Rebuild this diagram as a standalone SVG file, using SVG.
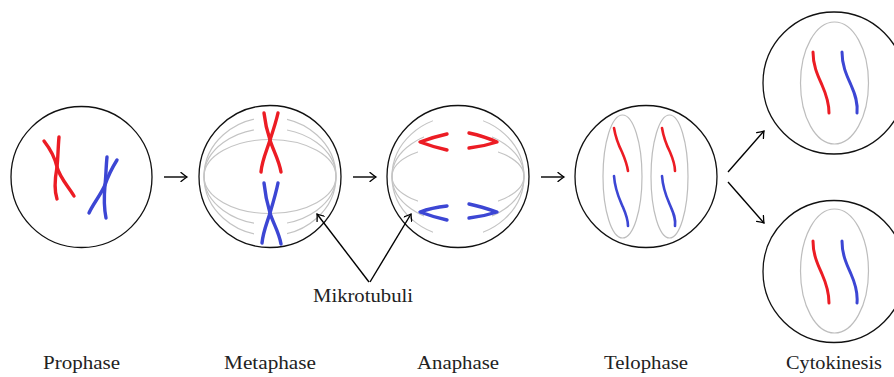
<svg xmlns="http://www.w3.org/2000/svg" width="894" height="377" viewBox="0 0 894 377">
  <defs>
    <style>
      .cell { fill: none; stroke: #111; stroke-width: 1.3; }
      .mt { fill: none; stroke: #c4c4c4; stroke-width: 1.2; }
      .env { fill: none; stroke: #bdbdbd; stroke-width: 1.2; }
      .red { fill: none; stroke: #ec1c24; stroke-width: 3.4; stroke-linecap: round; stroke-linejoin: round; }
      .blue { fill: none; stroke: #3c46d4; stroke-width: 3.4; stroke-linecap: round; stroke-linejoin: round; }
      .conn { fill: none; stroke: #000; stroke-width: 1.4; }
      .label { font-family: "Liberation Serif", "DejaVu Serif", serif; font-size: 19px; fill: #222; text-anchor: middle; }
    </style>
    <marker id="tip" viewBox="-7 -5 9 10" markerWidth="9" markerHeight="10" refX="0" refY="0" orient="auto" markerUnits="userSpaceOnUse">
      <path d="M-6,-4.5 Q-2,-1.2 0,0 Q-2,1.2 -6,4.5" fill="none" stroke="#000" stroke-width="1.3" stroke-linecap="round"/>
    </marker>
    <!-- spindle fibres are hidden across the equatorial band -->
    <clipPath id="metaSides">
      <rect x="190" y="90" width="64" height="180"/>
      <rect x="287" y="90" width="64" height="180"/>
    </clipPath>
    <clipPath id="anaOuter">
      <rect x="380" y="90" width="53" height="180"/>
      <rect x="483" y="90" width="53" height="180"/>
    </clipPath>
    <clipPath id="anaMid">
      <rect x="380" y="90" width="44" height="180"/>
      <rect x="492" y="90" width="44" height="180"/>
    </clipPath>
    <clipPath id="anaInner">
      <rect x="380" y="90" width="38" height="180"/>
      <rect x="498" y="90" width="38" height="180"/>
    </clipPath>
  </defs>

  <!-- Prophase -->
  <g id="prophase">
    <circle class="cell" cx="81.5" cy="177" r="70.5"/>
    <path class="red" d="M44,141 C51,150 55,158 57,167 C60,178 68,186 74,196"/>
    <path class="red" d="M59,137 C58,148 58,158 57,167 C55,178 54,190 57,199"/>
    <path class="blue" d="M117,160 C112,168 108,176 105,185 C100,196 93,204 89,213"/>
    <path class="blue" d="M107,157 C106,167 106,176 105,185 C104,196 104,208 106,218"/>
  </g>

  <!-- Metaphase -->
  <g id="metaphase">
    <circle class="cell" cx="270" cy="176.5" r="71"/>
    <ellipse class="mt" cx="270" cy="176.5" rx="66" ry="37"/>
    <g clip-path="url(#metaSides)">
      <ellipse class="mt" cx="270" cy="176.5" rx="66" ry="48"/>
      <ellipse class="mt" cx="270" cy="176.5" rx="66" ry="59"/>
    </g>
    <path class="red" d="M264,113 C265,122 267,131 270,140 C273,150 279,160 281,172"/>
    <path class="red" d="M278,113 C276,122 273,131 270,140 C267,150 262,160 261,172"/>
    <path class="blue" d="M264,183 C265,193 267,203 270,213 C273,223 279,232 281,244"/>
    <path class="blue" d="M278,183 C276,193 273,203 270,213 C267,223 263,232 262,243"/>
  </g>

  <!-- Anaphase -->
  <g id="anaphase">
    <circle class="cell" cx="458" cy="176.5" r="71"/>
    <ellipse class="mt" cx="458" cy="176.5" rx="66" ry="60" clip-path="url(#anaOuter)"/>
    <ellipse class="mt" cx="458" cy="176.5" rx="66" ry="46" clip-path="url(#anaMid)"/>
    <ellipse class="mt" cx="458" cy="176.5" rx="66" ry="31" clip-path="url(#anaInner)"/>
    <path class="red" d="M447,134 C438,136 428,139 420,142 C428,145 438,148 447,150"/>
    <path class="red" d="M469,133 C478,135 488,138 497,142 C488,145 478,147 469,148"/>
    <path class="blue" d="M447,206 C438,207 428,209 420,212 C428,215 438,218 447,220"/>
    <path class="blue" d="M469,204 C478,206 488,209 497,212 C488,215 478,217 469,218"/>
  </g>

  <!-- Telophase -->
  <g id="telophase">
    <circle class="cell" cx="646" cy="176.5" r="71"/>
    <ellipse class="env" cx="622.5" cy="176.5" rx="19.5" ry="61.5"/>
    <ellipse class="env" cx="669.5" cy="176.5" rx="18.5" ry="61.5"/>
    <path class="red" d="M614,128 C616,140 619,146 622,152 C625,159 627,164 628,171" style="stroke-width:2.6"/>
    <path class="blue" d="M614,176 C615,190 619,198 622,205 C625,212 628,218 628,226" style="stroke-width:2.6"/>
    <path class="red" d="M662,128 C664,140 667,146 670,152 C673,159 675,164 675,171" style="stroke-width:2.6"/>
    <path class="blue" d="M662,176 C663,190 667,198 670,205 C673,212 676,218 675,226" style="stroke-width:2.6"/>
  </g>

  <!-- Cytokinesis, upper daughter cell -->
  <g id="daughter-top">
    <circle class="cell" cx="834" cy="83" r="71"/>
    <ellipse class="env" cx="834.5" cy="83" rx="34" ry="61"/>
    <path class="red" d="M813,52 C813,66 818,76 822,85 C826,94 829,102 829,113" style="stroke-width:3"/>
    <path class="blue" d="M842,52 C842,66 847,76 851,85 C855,94 858,102 857,113" style="stroke-width:3"/>
  </g>

  <!-- Cytokinesis, lower daughter cell -->
  <g id="daughter-bottom">
    <circle class="cell" cx="834" cy="271.5" r="71"/>
    <ellipse class="env" cx="834.5" cy="271" rx="34" ry="62"/>
    <path class="red" d="M813,241 C813,255 818,265 822,274 C826,283 829,292 829,303" style="stroke-width:3"/>
    <path class="blue" d="M842,241 C842,255 847,265 851,274 C855,283 858,292 857,303" style="stroke-width:3"/>
  </g>

  <!-- Connectors -->
  <g id="connectors">
    <line class="conn" x1="164" y1="177" x2="187" y2="177" marker-end="url(#tip)"/>
    <line class="conn" x1="353" y1="177" x2="376" y2="177" marker-end="url(#tip)"/>
    <line class="conn" x1="541" y1="177" x2="564" y2="177" marker-end="url(#tip)"/>
    <line class="conn" x1="728" y1="172" x2="764" y2="131" marker-end="url(#tip)"/>
    <line class="conn" x1="728" y1="182" x2="764" y2="223" marker-end="url(#tip)"/>
    <line class="conn" x1="369" y1="282" x2="317" y2="214" marker-end="url(#tip)"/>
    <line class="conn" x1="370" y1="282" x2="411" y2="214" marker-end="url(#tip)"/>
  </g>

  <!-- Labels -->
  <g id="labels">
    <text class="label" x="363" y="302" textLength="100" lengthAdjust="spacingAndGlyphs">Mikrotubuli</text>
    <text class="label" x="81.5" y="369" textLength="77" lengthAdjust="spacingAndGlyphs">Prophase</text>
    <text class="label" x="270" y="369" textLength="92" lengthAdjust="spacingAndGlyphs">Metaphase</text>
    <text class="label" x="458" y="369" textLength="82" lengthAdjust="spacingAndGlyphs">Anaphase</text>
    <text class="label" x="646" y="369" textLength="84" lengthAdjust="spacingAndGlyphs">Telophase</text>
    <text class="label" x="834" y="369" textLength="96" lengthAdjust="spacingAndGlyphs">Cytokinesis</text>
  </g>
</svg>
